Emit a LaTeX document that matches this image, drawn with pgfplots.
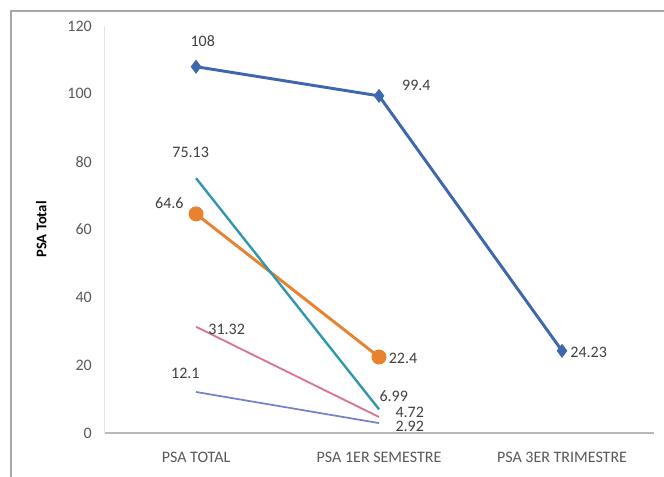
\documentclass[border=0pt]{standalone}
\usepackage{pgfplots}
\pgfplotsset{compat=1.18}
\usepackage{fontspec}
\setmainfont{Carlito}

\definecolor{serBlue}{HTML}{3E67AE}
\definecolor{serOrange}{HTML}{E8822F}
\definecolor{serTeal}{HTML}{2F98AE}
\definecolor{serPink}{HTML}{D9758C}
\definecolor{serPeri}{HTML}{7283C8}
\definecolor{tickGray}{HTML}{595959}
\definecolor{lblGray}{HTML}{404040}
\definecolor{frameGray}{HTML}{A8A8A8}

\begin{document}
\begin{tikzpicture}
% page size and outer chart frame
\path[use as bounding box] (-78.4pt,-32.25pt) rectangle (419.6pt,324.75pt);
\draw[frameGray, line width=1.4pt] (-70pt,-40pt) -- (-70pt,316.5pt) -- (430pt,316.5pt);

\begin{axis}[
  scale only axis,
  width=411.75pt, height=305.25pt,
  xmin=-0.5, xmax=2.5,
  ymin=0, ymax=120,
  ytick={0,20,...,120},
  xtick={0,1,2},
  xticklabels={PSA TOTAL, PSA 1ER SEMESTRE, PSA 3ER TRIMESTRE},
  major tick length=0pt,
  axis x line*=bottom,
  axis y line*=left,
  x axis line style={draw=black!28, line width=1.1pt, -},
  y axis line style={draw=black!10, line width=0.8pt, -},
  tick label style={font=\fontsize{12}{14}\selectfont, text=tickGray},
  /pgf/number format/assume math mode=true,
  xticklabel style={yshift=-11pt},
  yticklabel style={xshift=-6pt},
  ylabel={PSA Total},
  ylabel style={at={(axis description cs:-0.1150,0.5)}, anchor=center,
    font=\fontsize{11}{13}\selectfont\bfseries},
  clip=false,
]
% first patient: three measurements
\addplot[serBlue, line width=2.2pt, mark=diamond*, mark size=3.5pt,
  mark options={solid}] coordinates {(0,108) (1,99.4) (2,24.23)};
\addplot[serOrange, line width=2.2pt, mark=*, mark size=4.5pt]
  coordinates {(0,64.6) (1,22.4)};
\addplot[serTeal, line width=1.8pt] coordinates {(0,75.13) (1,6.99)};
\addplot[serPink, line width=1.4pt] coordinates {(0,31.32) (1,4.72)};
\addplot[serPeri, line width=1.3pt] coordinates {(0,12.1) (1,2.92)};

% value labels
\begin{scope}[every node/.style={font=\fontsize{12}{14}\selectfont, text=lblGray, inner sep=0.5pt}]
\node at (axis cs:0,108)   [xshift=5pt,   yshift=19pt]  {108};
\node at (axis cs:1,99.4)  [xshift=28pt,  yshift=8pt]   {99.4};
\node at (axis cs:2,24.23) [xshift=20pt,  yshift=-1pt]  {24.23};
\node at (axis cs:0,75.13) [xshift=-4pt,  yshift=19pt]  {75.13};
\node at (axis cs:0,64.6)  [xshift=-20pt, yshift=8pt]   {64.6};
\node at (axis cs:1,22.4)  [xshift=18pt,  yshift=-1pt]  {22.4};
\node at (axis cs:0,31.32) [xshift=23pt,  yshift=-2pt]  {31.32};
\node at (axis cs:1,6.99)  [xshift=11pt,  yshift=10pt]  {6.99};
\node at (axis cs:0,12.1)  [xshift=-8pt,  yshift=14pt]  {12.1};
\node at (axis cs:1,4.72)  [xshift=23pt,  yshift=3.5pt] {4.72};
\node at (axis cs:1,2.92)  [xshift=23pt,  yshift=-2.5pt]{2.92};
\end{scope}
\end{axis}
\end{tikzpicture}
\end{document}
